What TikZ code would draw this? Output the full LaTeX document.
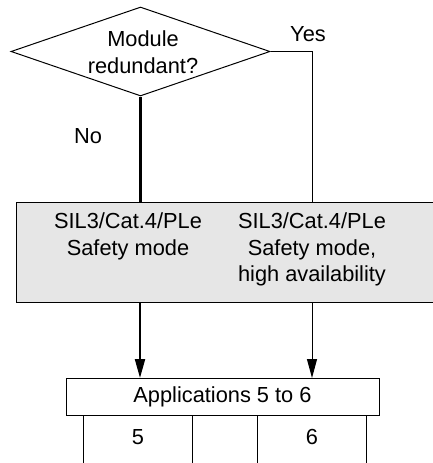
\documentclass[tikz,border=0pt]{standalone}
\usepackage{fontspec}
\setmainfont{Liberation Sans}
\usetikzlibrary{shapes.geometric,arrows.meta}
\definecolor{boxgray}{RGB}{230,230,230}
\begin{document}
\begin{tikzpicture}[x=1pt,y=-1pt,
  txt/.style={font=\fontsize{21.8}{26.8}\selectfont, align=center, inner sep=0pt},
  thin/.style={line width=1pt},
  thick2/.style={line width=2.1pt},
  arr/.style={-{Triangle[length=19pt,width=10pt]}}]
\useasboundingbox (0,0) rectangle (433,463);
\node[draw, thin, diamond, aspect=2.91, minimum width=259pt, minimum height=89pt, inner sep=0pt] (dec) at (140.5,51.5) {};
\node[txt] (dect) at (143,52.5) {Module\\redundant?};
\node[txt] (yes) at (308,34) {Yes};
\node[txt] (no) at (88,136) {No};
\node[draw, thin, fill=boxgray, minimum width=419pt, minimum height=100pt, inner sep=0pt] (mode) at (225.5,252) {};
\node[txt] (m1) at (128,236.5) {SIL3/Cat.4/PLe\\Safety mode};
\node[txt] (m2) at (312,249.5) {SIL3/Cat.4/PLe\\Safety mode,\\high availability};
\node[draw, thin, minimum width=313pt, minimum height=37pt, inner sep=0pt, txt] (app) at (222.5,396.5) {Applications 5 to 6};
\node[txt] (a5) at (138,437) {5};
\node[txt] (a6) at (312,437) {6};
\coordinate (yc) at (312,202);
\coordinate (ytop) at (312,51.5);
\draw[thick2] (dec.south) -- (dec.south |- mode.north);
\draw[thin] (dec.east) -- (ytop) -- (yc);
\draw[thick2, arr] (140,302) -- (140,378);
\draw[thin, arr] (312,302) -- (312,378);
\coordinate (b1) at (83,463);
\coordinate (b2) at (192,463);
\coordinate (b3) at (257,463);
\coordinate (b4) at (366,463);
\foreach \c in {b1,b2,b3,b4} \draw[thin] (app.south -| \c) -- (\c);
\end{tikzpicture}
\end{document}
